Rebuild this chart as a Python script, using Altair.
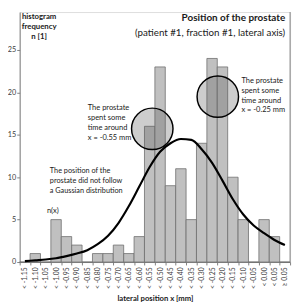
import altair as alt
import pandas as pd

categories = ["< -1.15", "< -1.10", "< -1.05", "< -1.00", "< -0.95", "< -0.90",
              "< -0.85", "< -0.80", "< -0.75", "< -0.70", "< -0.65", "< -0.60",
              "< -0.55", "< -0.50", "< -0.45", "< -0.40", "< -0.35", "< -0.30",
              "< -0.25", "< -0.20", "< -0.15", "< -0.10", "< -0.05", "< 0.00",
              "< 0.05", "≥ 0.05"]
counts = [0, 1, 0, 5, 3, 2, 0, 1, 1, 2, 1, 3, 16, 23, 9, 11, 5, 14, 24, 23, 10, 5, 0, 5, 3, 0]
fit_curve = [0.1, 0.2, 0.3, 0.45, 0.7, 1.0, 1.4, 2.1, 3.1, 4.6, 6.6, 8.9, 11.2, 13.0,
             14.0, 14.5, 14.4, 13.3, 11.7, 9.6, 7.4, 5.6, 4.3, 3.4, 2.6, 2.0]
circle1_cat, circle1_y = "< -0.55", 15.7
circle2_cat, circle2_y = "< -0.20", 19.5
y_ticks = [0, 5, 10, 15, 20, 25, 30]

df = pd.DataFrame({"cat": categories, "n": counts, "fit": fit_curve})
dc1 = pd.DataFrame({"cat": [circle1_cat], "y": [circle1_y]})
dc2 = pd.DataFrame({"cat": [circle2_cat], "y": [circle2_y]})
one = pd.DataFrame({"a": [0]})

W, H = 278, 257
FONT = "Lato"
INK = "#1a1a1a"

xscale = alt.Scale(domain=categories, paddingInner=0, paddingOuter=0)
yscale = alt.Scale(domain=[0, 29.47], nice=False, zero=True)

x_enc = alt.X("cat:N", scale=xscale, sort=categories,
              axis=alt.Axis(title="lateral position x [mm]", labelAngle=-90,
                            labelFontSize=7, labelColor="#404040", labelPadding=2,
                            tickBand="extent", tickSize=3, tickColor="#7f7f7f",
                            domainColor="#7f7f7f", titleFontSize=7.9,
                            titleFontWeight="bold", titleColor=INK,
                            titleY=38, titleBaseline="middle", labelFont=FONT,
                            titleFont=FONT))
y_enc = alt.Y("n:Q", scale=yscale,
              axis=alt.Axis(title=None, values=y_ticks, labelFontSize=7.5,
                            labelColor="#404040", tickSize=3, tickColor="#7f7f7f",
                            domainColor="#7f7f7f", grid=False, labelPadding=1,
                            labelFont=FONT))

bars = alt.Chart(df).mark_bar(color="#c0c0c0", stroke="#6e6e6e", strokeWidth=0.8).encode(
    x=x_enc, y=y_enc)


def circle(data, bp):
    return alt.Chart(data).mark_point(shape="circle", size=1815, filled=True,
                                      fill="#5a5a5a", fillOpacity=0.3,
                                      stroke="#000000", strokeWidth=1.5,
                                      strokeOpacity=1, opacity=1).encode(
        x=alt.X("cat:N", scale=xscale, sort=categories, bandPosition=bp),
        y=alt.Y("y:Q", scale=yscale))


circles = [circle(dc1, 0.75), circle(dc2, 0.05)]

curve = alt.Chart(df).mark_line(color="#000000", strokeWidth=2.2,
                                interpolate="monotone").encode(
    x=alt.X("cat:N", scale=xscale, sort=categories),
    y=alt.Y("fit:Q", scale=yscale))

frame = alt.Chart(one).mark_rule(color="#7f7f7f", strokeWidth=1).encode(
    x=alt.value(W), y=alt.value(0), y2=alt.value(H))


def txt(s, x, y, size=7.7, bold=False, align="left"):
    return alt.Chart(one).mark_text(
        text=s, align=align, baseline="middle", font=FONT,
        fontSize=size, fontWeight="bold" if bold else "normal",
        color=INK).encode(x=alt.value(x), y=alt.value(y))


def block(lines, x, ys, **kw):
    return [txt(s, x, y, **kw) for s, y in zip(lines, ys)]


texts = []
texts += [txt("Position of the prostate", 273, 6.5, size=10.2, bold=True, align="right")]
texts += [txt("(patient #1, fraction #1, lateral axis)", 273, 21.5, size=10, align="right")]
texts += block(["histogram", "frequency", "n [1]"], 20, [4.7, 15.3, 26.0],
               size=8, bold=True, align="center")
texts += block(["The prostate", "spent some", "time around", "x = -0.55 mm"], 70,
               [98.7, 108.7, 119.7, 129.7])
texts += block(["The prostate", "spent some", "time around", "x = -0.25 mm"], 228,
               [71.0, 81.0, 91.0, 100.5])
texts += block(["The position of the", "prostate did not follow",
                "a Gaussian distribution"], 31, [163.7, 173.7, 184.3], size=7.5)
texts += [txt("n(x)", 28, 205)]

chart = alt.layer(bars, *circles, curve, frame, *texts).properties(
    width=W, height=H,
    autosize=alt.AutoSizeParams(type="none"),
    padding={"left": 12, "top": 0, "right": 3, "bottom": 40},
).configure_view(stroke=None).configure(font=FONT, background="white")

chart.save("out.html", embed_options={"renderer": "svg", "actions": False})
